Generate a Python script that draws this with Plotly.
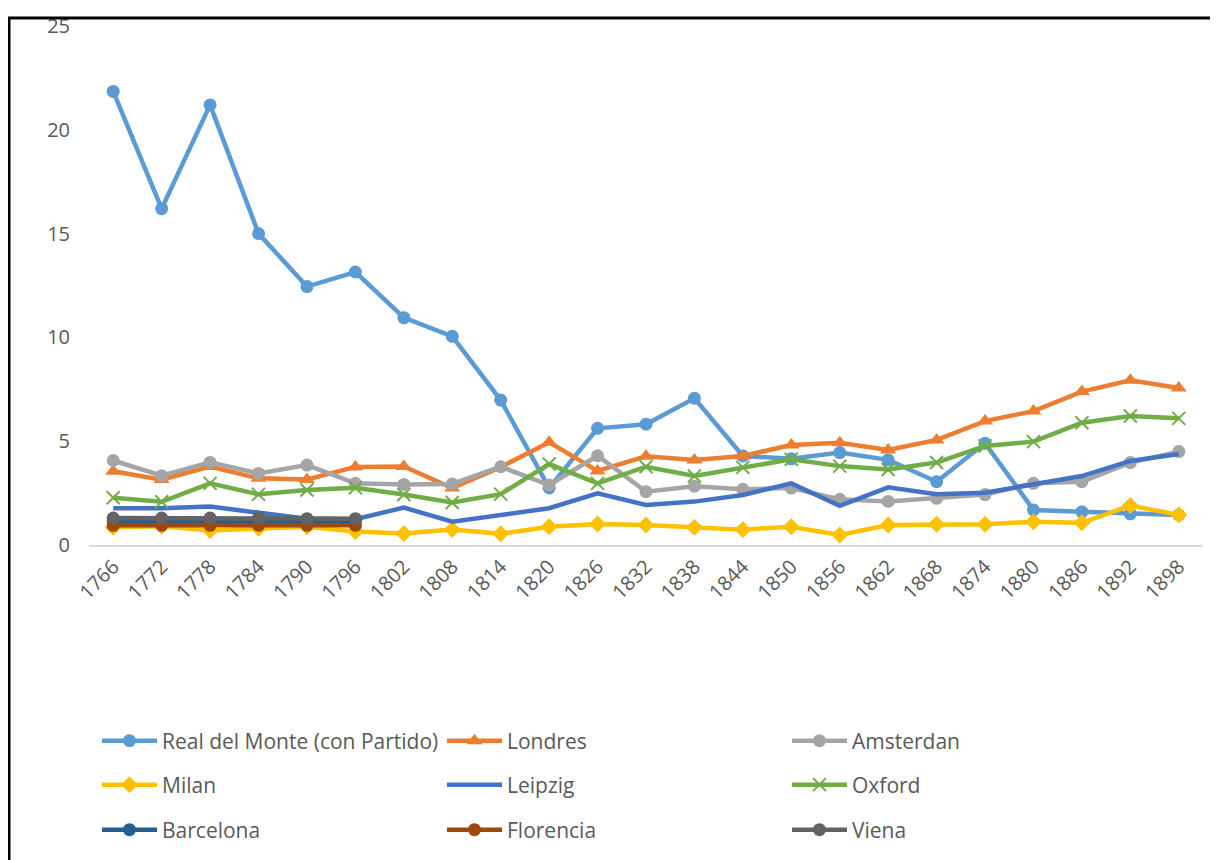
import plotly.graph_objects as go

years = [1766, 1772, 1778, 1784, 1790, 1796, 1802, 1808, 1814, 1820, 1826, 1832,
         1838, 1844, 1850, 1856, 1862, 1868, 1874, 1880, 1886, 1892, 1898]
year_labels = [str(y) for y in years]

real_del_monte = [21.85, 16.2, 21.2, 15.0, 12.45, 13.15, 10.95, 10.05, 6.98, 2.75, 5.62, 5.82,
                  7.07, 4.29, 4.15, 4.45, 4.1, 3.05, 4.9, 1.69, 1.6, 1.5, 1.45]
londres = [3.55, 3.15, 3.78, 3.21, 3.16, 3.76, 3.78, 2.74, 3.75, 4.95, 3.57, 4.27,
           4.09, 4.29, 4.82, 4.93, 4.58, 5.06, 5.97, 6.45, 7.39, 7.93, 7.56]
amsterdan = [4.07, 3.34, 3.98, 3.45, 3.85, 2.97, 2.92, 2.94, 3.77, 2.89, 4.3, 2.57,
             2.83, 2.68, 2.74, 2.2, 2.1, 2.25, 2.43, 2.97, 3.05, 3.97, 4.5]
milan = [0.85, 0.9, 0.7, 0.8, 0.88, 0.65, 0.55, 0.75, 0.54, 0.88, 1.01, 0.96,
         0.85, 0.74, 0.88, 0.48, 0.96, 1.0, 1.0, 1.12, 1.07, 1.9, 1.45]
leipzig = [1.77, 1.77, 1.85, 1.53, 1.26, 1.24, 1.8, 1.12, 1.45, 1.77, 2.49, 1.93,
           2.09, 2.41, 2.97, 1.89, 2.78, 2.44, 2.52, 2.94, 3.32, 4.05, 4.38]
oxford = [2.28, 2.08, 2.97, 2.44, 2.65, 2.76, 2.43, 2.05, 2.45, 3.9, 2.97, 3.77,
          3.32, 3.74, 4.13, 3.8, 3.64, 3.97, 4.77, 4.98, 5.89, 6.21, 6.1]
years_early = [1766, 1772, 1778, 1784, 1790, 1796]
barcelona = [1.15, 1.15, 1.15, 1.15, 1.15, 1.15]
florencia = [0.95, 0.95, 0.95, 0.95, 0.95, 0.95]
viena = [1.3, 1.3, 1.3, 1.3, 1.27, 1.27]

series = [
    ("Real del Monte (con Partido)", years, real_del_monte, "#5B9BD5", "circle", "legend"),
    ("Londres", years, londres, "#ED7D31", "triangle-up", "legend"),
    ("Amsterdan", years, amsterdan, "#A5A5A5", "circle", "legend"),
    ("Milan", years, milan, "#FFC000", "diamond", "legend2"),
    ("Leipzig", years, leipzig, "#4472C4", None, "legend2"),
    ("Oxford", years, oxford, "#70AD47", "x-thin-open", "legend2"),
    ("Barcelona", years_early, barcelona, "#255E91", "circle", "legend3"),
    ("Florencia", years_early, florencia, "#9E480E", "circle", "legend3"),
    ("Viena", years_early, viena, "#636363", "circle", "legend3"),
]

fig = go.Figure()
for name, xs, ys, color, sym, leg in series:
    if sym is None:
        mode = "lines"
        marker = None
    elif sym == "x-thin-open":
        mode = "lines+markers"
        marker = dict(symbol=sym, size=13, color=color, line=dict(color=color, width=2))
    else:
        mode = "lines+markers"
        marker = dict(symbol=sym, size=13 if sym != "triangle-up" else 14, color=color,
                      line=dict(width=0))
    fig.add_trace(go.Scatter(x=xs, y=ys, name=name, mode=mode,
                             line=dict(color=color, width=4.5),
                             marker=marker, legend=leg))

font_family = "'Open Sans', Lato, sans-serif"
tick_color = "#595959"

W, H = 1210, 852
PL, PR, PT, PB = 81, 1195, 18, 537  # plot area in figure pixels

legend_common = dict(orientation="h", xref="container", yref="container",
                     xanchor="left", yanchor="middle", entrywidth=275,
                     entrywidthmode="pixels", bgcolor="rgba(0,0,0,0)",
                     font=dict(family=font_family, size=21, color=tick_color),
                     traceorder="normal", itemwidth=55)

fig.update_layout(
    width=W, height=H,
    paper_bgcolor="white", plot_bgcolor="white",
    margin=dict(l=PL, r=W - PR, t=PT, b=H - PB, autoexpand=False),
    showlegend=True,
    legend=dict(legend_common, x=89 / W, y=1 - 733 / H),
    legend2=dict(legend_common, x=89 / W, y=1 - 777 / H),
    legend3=dict(legend_common, x=89 / W, y=1 - 822 / H),
    xaxis=dict(range=[1763, 1901], tickmode="array", tickvals=years, ticktext=year_labels,
               tickangle=-45, showgrid=False, zeroline=False, showline=True,
               linecolor="#D9D9D9", linewidth=2, ticks="", automargin=False,
               tickfont=dict(family=font_family, size=20, color=tick_color)),
    yaxis=dict(range=[0, 25], tickvals=[0, 5, 10, 15, 20, 25], showgrid=False,
               zeroline=False, showline=False, ticks="", ticklabelstandoff=18,
               automargin=False,
               tickfont=dict(family=font_family, size=20, color=tick_color)),
    shapes=[dict(type="rect", xref="paper", yref="paper",
                 x0=(1 - PL) / (PR - PL), x1=(1207 - PL) / (PR - PL),
                 y0=(PB - 880) / (PB - PT), y1=(PB - 10) / (PB - PT),
                 line=dict(color="black", width=3), fillcolor="rgba(0,0,0,0)",
                 layer="above")],
)

fig.write_html("out.html")
